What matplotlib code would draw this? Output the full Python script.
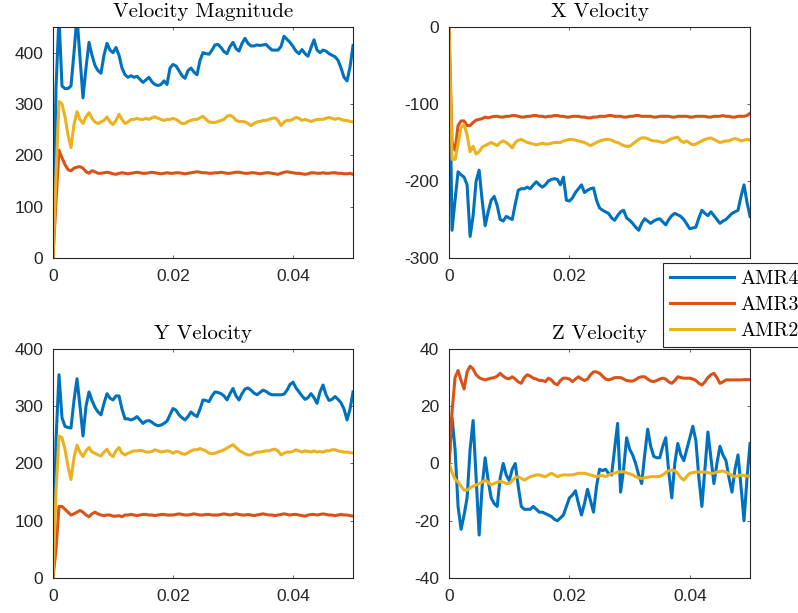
import numpy as np
import matplotlib
matplotlib.use("Agg")
import matplotlib.pyplot as plt

plt.rcParams['axes.unicode_minus'] = False
plt.rcParams['font.family'] = ['Liberation Sans', 'DejaVu Sans']

# time samples (s)
t = np.linspace(0, 0.05, 101)

# velocity magnitude
vmag_amr4 = [0, 330, 470, 335, 330, 330, 335, 400, 470, 390,
             312, 370, 420, 395, 375, 365, 360, 395, 418, 405,
             400, 410, 395, 370, 357, 352, 355, 352, 354, 348,
             342, 347, 352, 343, 338, 336, 338, 345, 338, 370,
             377, 374, 365, 355, 350, 365, 370, 362, 357, 385,
             400, 398, 397, 405, 415, 416, 410, 402, 398, 412,
             420, 408, 403, 418, 428, 418, 413, 413, 415, 414,
             415, 416, 410, 405, 405, 405, 412, 432, 426, 420,
             412, 403, 398, 406, 398, 393, 410, 425, 405, 400,
             405, 403, 398, 395, 392, 385, 370, 352, 345, 372,
             414]
vmag_amr3 = [0, 110, 210, 195, 182, 172, 170, 175, 177, 178,
             175, 168, 165, 170, 168, 165, 165, 166, 167, 166,
             164, 163, 165, 166, 165, 164, 165, 166, 167, 166,
             165, 165, 166, 167, 166, 165, 164, 165, 166, 165,
             165, 166, 166, 165, 164, 165, 166, 167, 168, 167,
             166, 166, 165, 165, 166, 166, 167, 166, 165, 165,
             166, 167, 167, 166, 165, 165, 166, 166, 165, 164,
             165, 166, 166, 165, 164, 163, 165, 167, 168, 167,
             166, 165, 165, 164, 163, 164, 166, 166, 165, 165,
             166, 165, 165, 166, 166, 165, 165, 164, 164, 165,
             163]
vmag_amr2 = [0, 160, 305, 300, 275, 240, 215, 260, 285, 270,
             262, 275, 283, 272, 265, 262, 265, 268, 275, 265,
             260, 268, 280, 270, 262, 265, 270, 270, 272, 270,
             270, 272, 270, 273, 275, 272, 270, 268, 270, 270,
             272, 270, 266, 262, 262, 266, 268, 270, 270, 273,
             276, 270, 265, 264, 264, 266, 268, 270, 276, 278,
             275, 268, 266, 266, 265, 262, 258, 262, 265, 266,
             268, 268, 270, 272, 273, 268, 258, 265, 268, 268,
             270, 274, 272, 268, 270, 268, 266, 268, 270, 270,
             270, 272, 274, 272, 270, 272, 270, 268, 268, 266,
             265]

# x velocity
vx_amr4 = [0, -264, -225, -188, -192, -195, -205, -272, -245, -200,
           -186, -225, -258, -240, -225, -220, -232, -250, -252, -246,
           -248, -250, -230, -212, -210, -210, -208, -210, -205, -201,
           -205, -208, -205, -200, -198, -197, -198, -205, -195, -225,
           -226, -222, -215, -210, -205, -215, -212, -210, -209, -225,
           -235, -238, -240, -242, -248, -251, -245, -240, -238, -248,
           -251, -255, -260, -264, -255, -249, -252, -255, -252, -250,
           -249, -253, -257, -250, -245, -242, -244, -246, -250, -256,
           -262, -261, -260, -248, -238, -242, -245, -240, -245, -250,
           -255, -252, -250, -246, -242, -240, -238, -220, -205, -228,
           -246]
vx_amr3 = [0, -150, -160, -128, -122, -122, -128, -128, -124, -121,
           -120, -119, -117, -118, -117, -116, -116, -117, -117, -116,
           -116, -115, -115, -116, -117, -117, -116, -116, -115, -115,
           -116, -116, -117, -116, -116, -115, -115, -116, -116, -117,
           -117, -116, -116, -116, -117, -117, -118, -118, -117, -117,
           -116, -116, -116, -115, -115, -116, -116, -116, -117, -117,
           -116, -116, -115, -115, -116, -116, -116, -116, -117, -117,
           -116, -116, -116, -116, -117, -117, -116, -116, -116, -116,
           -117, -117, -116, -116, -116, -116, -117, -117, -116, -116,
           -116, -115, -116, -116, -117, -117, -116, -116, -116, -115,
           -112]
vx_amr2 = [0, -172, -172, -152, -130, -127, -140, -162, -155, -165,
           -162, -156, -154, -152, -150, -152, -154, -150, -148, -150,
           -153, -157, -150, -147, -146, -148, -150, -151, -152, -153,
           -152, -151, -152, -152, -151, -150, -150, -150, -148, -147,
           -146, -146, -147, -148, -149, -150, -152, -154, -152, -150,
           -148, -147, -146, -146, -147, -149, -150, -152, -154, -155,
           -155, -152, -149, -146, -144, -144, -145, -147, -148, -148,
           -149, -150, -149, -147, -145, -144, -143, -148, -150, -148,
           -151, -153, -152, -150, -148, -146, -145, -144, -146, -148,
           -150, -149, -148, -148, -146, -145, -146, -148, -147, -146,
           -147]

# y velocity
vy_amr4 = [0, 240, 355, 280, 265, 263, 262, 310, 348, 300,
           248, 300, 325, 310, 298, 290, 285, 305, 322, 314,
           311, 318, 318, 295, 278, 278, 276, 278, 282, 276,
           270, 274, 275, 272, 268, 266, 267, 270, 274, 285,
           296, 293, 285, 280, 276, 282, 290, 285, 282, 295,
           311, 310, 308, 318, 325, 324, 322, 318, 311, 322,
           331, 318, 311, 322, 330, 332, 328, 323, 320, 324,
           328, 326, 322, 320, 320, 320, 320, 321, 328, 338,
           342, 332, 325, 318, 312, 315, 322, 315, 305, 325,
           337, 320, 310, 312, 317, 312, 306, 295, 276, 295,
           325]
vy_amr3 = [0, 50, 125, 125, 120, 115, 110, 112, 115, 118,
           115, 110, 107, 112, 115, 112, 110, 109, 110, 110,
           108, 108, 109, 107, 110, 110, 111, 110, 109, 110,
           111, 111, 110, 110, 109, 110, 111, 111, 110, 110,
           110, 111, 112, 111, 110, 110, 111, 112, 111, 110,
           110, 111, 111, 110, 110, 110, 111, 112, 111, 110,
           111, 112, 111, 110, 110, 111, 110, 109, 110, 111,
           112, 111, 110, 110, 109, 110, 111, 112, 111, 110,
           111, 111, 110, 109, 108, 110, 111, 111, 110, 111,
           112, 111, 110, 110, 109, 110, 111, 110, 110, 109,
           108]
vy_amr2 = [0, 150, 248, 245, 225, 195, 172, 210, 232, 220,
           212, 222, 228, 220, 218, 215, 213, 220, 225, 216,
           212, 222, 228, 218, 215, 218, 220, 222, 222, 223,
           222, 220, 220, 221, 224, 222, 220, 221, 222, 221,
           218, 221, 220, 217, 216, 219, 222, 224, 224, 226,
           224, 222, 218, 217, 218, 220, 222, 224, 227, 230,
           233, 228, 223, 220, 217, 215, 215, 218, 220, 220,
           221, 222, 222, 224, 225, 222, 215, 218, 220, 220,
           221, 224, 222, 220, 222, 221, 220, 222, 220, 221,
           220, 222, 222, 224, 224, 222, 221, 220, 220, 219,
           218]

# z velocity
vz_amr4 = [0, 16, 5, -15, -23, -18, -12, 5, 15, -5,
           -25, -8, 2, -6, -12, -14, -15, -5, 0, -4,
           -6, -2, 0, -8, -15, -16, -16, -16, -15, -16,
           -17, -17, -17.5, -18, -18.5, -19.5, -20, -19, -18, -15,
           -12, -11, -9.5, -14, -18, -14, -9, -13, -17, -8,
           -2, -2.5, -2, -3.5, -4, 5, 14, -10, -2, 9,
           5, 3, 0, -4, -7, 3, 12, 6, 2.5, 2,
           2, 6, 9, -3, -12, 0, 7, 3, 1, 5,
           9, 13, 8, -5, -15, -2, 11, 2, -7, 0,
           6, 3, 1, -5, -10, -2, 3, -8, -20, -5,
           7]
vz_amr3 = [0, 18, 30, 32.5, 29, 26, 32, 34, 33, 31,
           30, 29.5, 29.2, 29.5, 29.8, 30, 30.5, 31.5, 30.5, 29.8,
           29.6, 30.3, 29.5, 28.5, 28, 30, 31, 30.5, 29.8, 29.5,
           29, 29, 28.6, 29.8, 29.2, 28, 27.5, 29, 29.8, 29.8,
           29.5, 28.6, 29.5, 30.3, 29.5, 29, 29.5, 31, 32, 32,
           31.5, 30.5, 29.5, 29.2, 29.5, 30, 30, 30, 29.5, 29,
           28.8, 28.8, 29.3, 30, 30.3, 30.3, 29.5, 28.8, 28.6, 29,
           29.5, 29.8, 29.5, 28.5, 28, 29, 30.3, 30, 29.8, 29.8,
           29.8, 29.5, 29, 28, 27.4, 28.5, 30, 31, 31.5, 30,
           28, 28.5, 29.2, 29.2, 29.2, 29.2, 29.2, 29.2, 29.3, 29.3,
           29.3]
vz_amr2 = [0, -3, -5.5, -6.5, -8, -9.3, -9.3, -8.5, -8, -7.5,
           -7, -6.5, -5.8, -6.5, -7.5, -7, -6.5, -6.3, -6.5, -7,
           -7, -6, -5, -4.6, -5.2, -5.8, -5.2, -4.6, -4.3, -4,
           -4, -4.3, -4.6, -4, -3.4, -4, -4.6, -4.2, -4, -4,
           -4, -4, -3.7, -3.4, -3.4, -3.4, -3.7, -4, -4.3, -4.6,
           -4.3, -4.2, -4.6, -4, -3.6, -3.4, -3, -2.9, -2.9, -3.3,
           -3.6, -4, -4.6, -5, -5.2, -5, -4.8, -4.6, -4.6, -4.6,
           -4.5, -4, -3.2, -2.5, -2.3, -2.5, -3.5, -5, -5.8, -4.5,
           -3.4, -3.2, -3, -3, -3, -3, -3.2, -3.4, -3.4, -3,
           -2.8, -2.6, -3, -3.6, -4.2, -4.6, -4.3, -4, -4.2, -4.4,
           -4.3]

labels = ['AMR4', 'AMR3', 'AMR2']
colors = ['#0072BD', '#D95319', '#EDB120']
panels = [
    ('Velocity Magnitude', [vmag_amr4, vmag_amr3, vmag_amr2], (0, 450), [0, 100, 200, 300, 400]),
    ('X Velocity', [vx_amr4, vx_amr3, vx_amr2], (-300, 0), [-300, -200, -100, 0]),
    ('Y Velocity', [vy_amr4, vy_amr3, vy_amr2], (0, 400), [0, 100, 200, 300, 400]),
    ('Z Velocity', [vz_amr4, vz_amr3, vz_amr2], (-40, 40), [-40, -20, 0, 20, 40]),
]
# axes boxes [left, bottom, width, height] in figure fractions
boxes = [
    [0.0664, 0.5791, 0.3760, 0.3769],
    [0.5627, 0.5791, 0.3772, 0.3769],
    [0.0664, 0.0571, 0.3760, 0.3736],
    [0.5627, 0.0571, 0.3772, 0.3736],
]

fig = plt.figure(figsize=(7.98, 6.13), dpi=100)
lines = []
for (title, series, ylim, yticks), box in zip(panels, boxes):
    ax = fig.add_axes(box)
    lines = []
    for s, c, lab in zip(series, colors, labels):
        ln, = ax.plot(t, s, color=c, lw=2.2, label=lab)
        lines.append(ln)
    ax.set_xlim(0, 0.05)
    ax.set_ylim(*ylim)
    ax.set_xticks([0, 0.02, 0.04])
    ax.set_xticklabels(['0', '0.02', '0.04'])
    ax.set_yticks(yticks)
    ax.set_yticklabels([str(v) for v in yticks])
    ax.tick_params(direction='in', length=2.5, width=0.5, colors='#262626',
                   labelsize=12.5, top=True, right=True)
    ax.tick_params(axis='x', pad=8)
    ax.tick_params(axis='y', pad=7)
    for sp in ax.spines.values():
        sp.set_color('#262626')
        sp.set_linewidth(0.8)
    ax.set_title(title, family='cmr10', fontsize=15, pad=7.5, color='#000000')

leg = fig.legend(lines, labels, loc='upper left',
                 bbox_to_anchor=(663 / 798, 1 - 263 / 613),
                 prop={'family': 'cmr10', 'size': 14.5},
                 handlelength=3.2, handletextpad=0.3, borderpad=0.35,
                 labelspacing=0.38, borderaxespad=0, fancybox=False,
                 framealpha=1, edgecolor='#262626')
leg.get_frame().set_linewidth(0.8)

fig.savefig('out.png', dpi=100)
